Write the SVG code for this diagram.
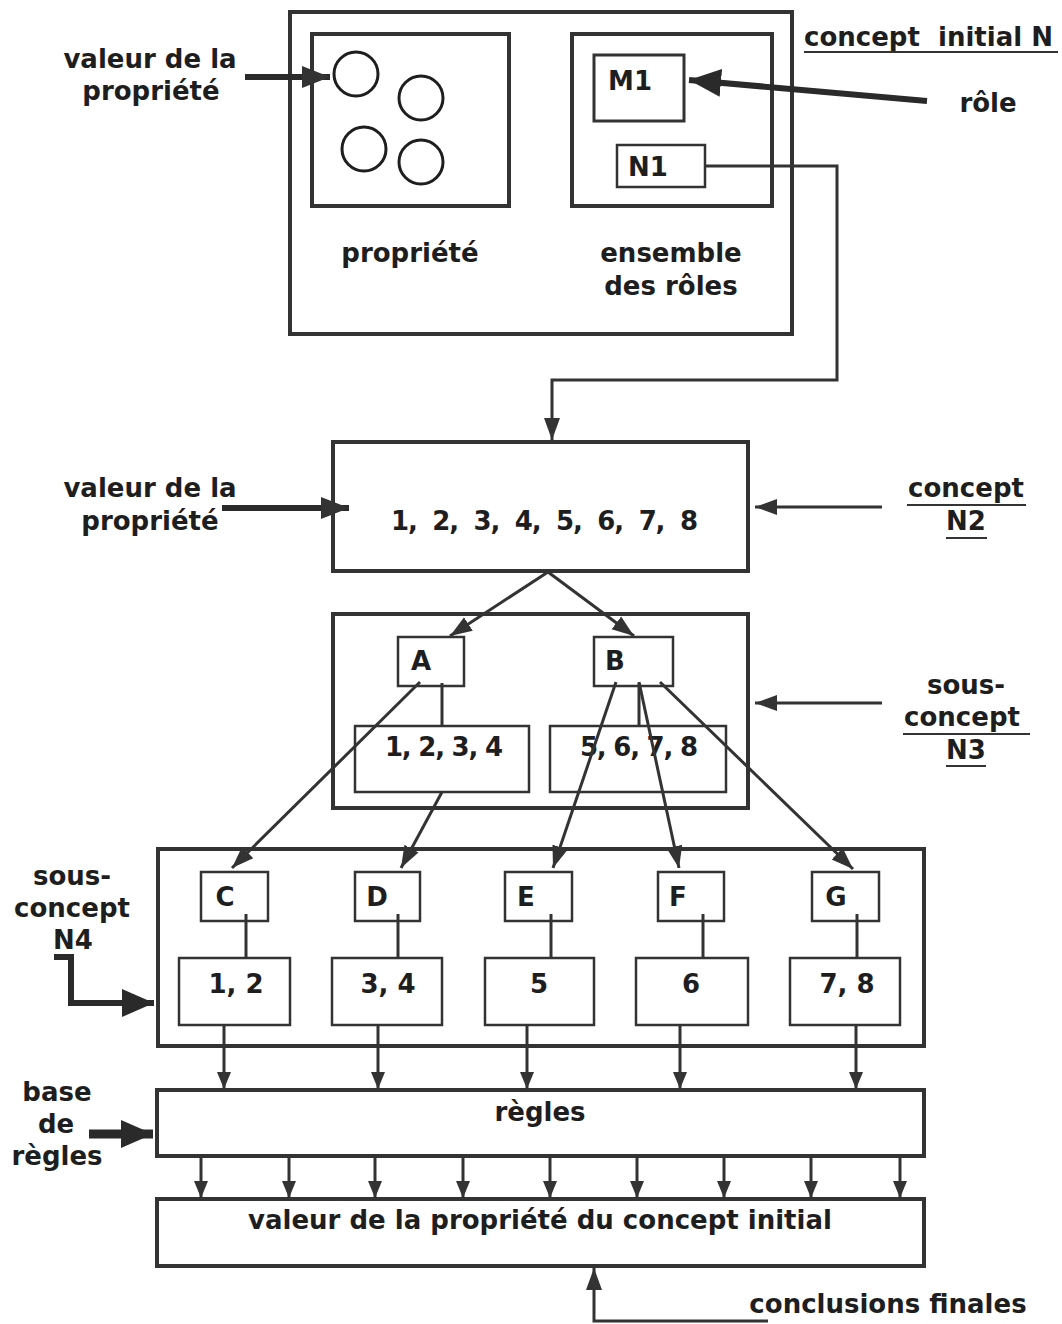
<svg xmlns="http://www.w3.org/2000/svg" width="1062" height="1324" viewBox="0 0 1062 1324">
<defs>
<style>
text{font-family:"DejaVu Sans","Open Sans",sans-serif;font-weight:700;fill:#1e1e1e;font-size:26px}
.c{text-anchor:middle}
.box{fill:none;stroke:#333;stroke-width:4}
.ibox{fill:#fff;stroke:#333;stroke-width:3}
.sbox{fill:#fff;stroke:#333;stroke-width:2.5}
.circ{fill:none;stroke:#1e1e1e;stroke-width:3}
.ln{fill:none;stroke:#333;stroke-width:3}
.th{fill:none;stroke:#2a2a2a;stroke-width:6}
.ul{stroke:#333;stroke-width:2}
</style>
<marker id="am" markerUnits="userSpaceOnUse" markerWidth="24" markerHeight="18" refX="22" refY="9" orient="auto"><path d="M0,1 L22,9 L0,17 z" fill="#333"/></marker>
<marker id="as" markerUnits="userSpaceOnUse" markerWidth="18" markerHeight="16" refX="17" refY="8" orient="auto"><path d="M0,1 L17,8 L0,15 z" fill="#333"/></marker>
<marker id="ab" markerUnits="userSpaceOnUse" markerWidth="34" markerHeight="32" refX="32" refY="16" orient="auto"><path d="M0,2 L32,16 L0,30 z" fill="#2a2a2a"/></marker>
<marker id="ar" markerUnits="userSpaceOnUse" markerWidth="30" markerHeight="26" refX="28" refY="13" orient="auto"><path d="M0,2 L28,13 L0,24 z" fill="#333"/></marker>
</defs>
<rect width="1062" height="1324" fill="#fff"/>

<g id="concept-initial">
<rect class="box" x="290" y="12" width="502" height="322"/>
<text x="804" y="46" xml:space="preserve">concept  initial N</text>
<line class="ul" x1="804" y1="52" x2="1058" y2="52"/>
</g>
<g id="propriete">
<rect class="box" x="312" y="34" width="197" height="172"/>
<circle class="circ" cx="356" cy="74" r="22"/>
<circle class="circ" cx="421" cy="98" r="22"/>
<circle class="circ" cx="364" cy="149" r="22"/>
<circle class="circ" cx="421" cy="162" r="22"/>
<text x="410" y="262" class="c">propriété</text>
</g>
<g id="ensemble-roles">
<rect class="box" x="572" y="34" width="200" height="172"/>
<text x="671" y="262" class="c">ensemble</text>
<text x="671" y="295" class="c">des rôles</text>
</g>
<g id="M1"><rect class="ibox" x="594" y="55" width="90" height="66"/><text x="630" y="90" class="c">M1</text></g>
<g id="N1"><rect class="sbox" x="617" y="145" width="88" height="42"/><text x="648" y="176" class="c">N1</text></g>
<g id="label-valeur1"><text x="150" y="68" class="c">valeur de la</text><text x="151" y="100" class="c">propriété</text></g>
<g id="label-role"><text x="988" y="112" class="c">rôle</text></g>

<g id="concept-N2">
<rect class="box" x="333" y="442" width="415" height="129"/>
<text x="391" y="530" xml:space="preserve" textLength="307" lengthAdjust="spacing">1,  2,  3,  4,  5,  6,  7,  8</text>
</g>
<g id="label-valeur2"><text x="150" y="497" class="c">valeur de la</text><text x="150" y="530" class="c">propriété</text></g>
<g id="label-N2">
<text x="966" y="497" class="c">concept</text><line class="ul" x1="907" y1="505" x2="1026" y2="505"/>
<text x="966" y="530" class="c">N2</text><line class="ul" x1="946" y1="538" x2="987" y2="538"/>
</g>

<g id="sous-concept-N3">
<rect class="box" x="333" y="614" width="415" height="194"/>
</g>
<g id="A"><rect class="sbox" x="398" y="637" width="66" height="49"/><text x="421" y="670" class="c">A</text></g>
<g id="B"><rect class="sbox" x="594" y="637" width="79" height="49"/><text x="615" y="670" class="c">B</text></g>
<g id="set1234"><rect class="sbox" x="355" y="726" width="174" height="66"/><text x="385" y="756" textLength="118" lengthAdjust="spacing">1, 2, 3, 4</text></g>
<g id="set5678"><rect class="sbox" x="550" y="726" width="176" height="66"/><text x="580" y="756" textLength="118" lengthAdjust="spacing">5, 6, 7, 8</text></g>
<g id="label-N3">
<text x="966" y="694" class="c">sous-</text>
<text x="962" y="726" class="c">concept</text><line class="ul" x1="903" y1="734" x2="1030" y2="734"/>
<text x="966" y="759" class="c">N3</text><line class="ul" x1="946" y1="766" x2="986" y2="766"/>
</g>

<g id="sous-concept-N4">
<rect class="box" x="158" y="849" width="766" height="197"/>
</g>
<g id="C"><rect class="sbox" x="201" y="872" width="67" height="49"/><text x="225" y="906" class="c">C</text></g>
<g id="D"><rect class="sbox" x="355" y="872" width="65" height="49"/><text x="377" y="906" class="c">D</text></g>
<g id="E"><rect class="sbox" x="505" y="872" width="67" height="49"/><text x="526" y="906" class="c">E</text></g>
<g id="F"><rect class="sbox" x="658" y="872" width="66" height="49"/><text x="678" y="906" class="c">F</text></g>
<g id="G"><rect class="sbox" x="812" y="872" width="67" height="49"/><text x="836" y="906" class="c">G</text></g>
<g id="set12"><rect class="sbox" x="179" y="958" width="111" height="67"/><text x="236" y="993" class="c">1, 2</text></g>
<g id="set34"><rect class="sbox" x="332" y="958" width="110" height="67"/><text x="388" y="993" class="c">3, 4</text></g>
<g id="set5"><rect class="sbox" x="485" y="958" width="109" height="67"/><text x="539" y="993" class="c">5</text></g>
<g id="set6"><rect class="sbox" x="636" y="958" width="112" height="67"/><text x="691" y="993" class="c">6</text></g>
<g id="set78"><rect class="sbox" x="790" y="958" width="110" height="67"/><text x="847" y="993" class="c">7, 8</text></g>
<g id="label-N4">
<text x="72" y="885" class="c">sous-</text>
<text x="72" y="917" class="c">concept</text>
<text x="73" y="949" class="c">N4</text>
</g>

<g id="regles">
<rect class="box" x="157" y="1090" width="767" height="66"/>
<text x="540" y="1121" class="c">règles</text>
</g>
<g id="label-base">
<text x="57" y="1101" class="c">base</text>
<text x="56" y="1133" class="c">de</text>
<text x="57" y="1165" class="c">règles</text>
</g>

<g id="valeur-finale">
<rect class="box" x="157" y="1199" width="767" height="67"/>
<text x="540" y="1229" class="c">valeur de la propriété du concept initial</text>
</g>
<g id="label-conclusions"><text x="888" y="1313" class="c">conclusions finales</text></g>

<g id="connectors">
<line class="th" x1="245" y1="77" x2="330" y2="77" marker-end="url(#ar)"/>
<line class="th" x1="927" y1="101" x2="689" y2="80" marker-end="url(#ab)"/>
<polyline class="ln" points="705,166 837,166 837,380 552,380 552,440" marker-end="url(#am)"/>
<line class="th" x1="222" y1="508" x2="349" y2="508" marker-end="url(#ar)"/>
<line class="ln" x1="882" y1="507" x2="755" y2="507" marker-end="url(#am)"/>
<line class="ln" x1="882" y1="703" x2="755" y2="703" marker-end="url(#am)"/>
<line class="ln" x1="548" y1="572" x2="450" y2="636" marker-end="url(#am)"/>
<line class="ln" x1="548" y1="572" x2="634" y2="636" marker-end="url(#am)"/>
<line class="ln" x1="442" y1="683" x2="442" y2="726"/>
<line class="ln" x1="639" y1="683" x2="639" y2="726"/>
<line class="ln" x1="420" y1="682" x2="232" y2="868" marker-end="url(#am)"/>
<line class="ln" x1="442" y1="792" x2="401" y2="868" marker-end="url(#am)"/>
<line class="ln" x1="616" y1="682" x2="553" y2="868" marker-end="url(#am)"/>
<line class="ln" x1="639" y1="682" x2="679" y2="868" marker-end="url(#am)"/>
<line class="ln" x1="660" y1="682" x2="853" y2="869" marker-end="url(#am)"/>
<line class="ln" x1="246" y1="914" x2="246" y2="958"/>
<line class="ln" x1="398" y1="914" x2="398" y2="958"/>
<line class="ln" x1="551" y1="914" x2="551" y2="958"/>
<line class="ln" x1="703" y1="914" x2="703" y2="958"/>
<line class="ln" x1="857" y1="914" x2="857" y2="958"/>
<polyline class="th" points="54,957 71,957 71,1003 154,1003" marker-end="url(#ab)"/>
<line class="ln" x1="224" y1="1025" x2="224" y2="1089" marker-end="url(#as)"/>
<line class="ln" x1="378" y1="1025" x2="378" y2="1089" marker-end="url(#as)"/>
<line class="ln" x1="527" y1="1025" x2="527" y2="1089" marker-end="url(#as)"/>
<line class="ln" x1="680" y1="1025" x2="680" y2="1089" marker-end="url(#as)"/>
<line class="ln" x1="856" y1="1025" x2="856" y2="1089" marker-end="url(#as)"/>
<line style="fill:none;stroke:#2a2a2a;stroke-width:9" x1="89" y1="1134" x2="153" y2="1134" marker-end="url(#ab)"/>
<line class="ln" x1="201" y1="1156" x2="201" y2="1198" marker-end="url(#as)"/>
<line class="ln" x1="289" y1="1156" x2="289" y2="1198" marker-end="url(#as)"/>
<line class="ln" x1="375" y1="1156" x2="375" y2="1198" marker-end="url(#as)"/>
<line class="ln" x1="463" y1="1156" x2="463" y2="1198" marker-end="url(#as)"/>
<line class="ln" x1="550" y1="1156" x2="550" y2="1198" marker-end="url(#as)"/>
<line class="ln" x1="637" y1="1156" x2="637" y2="1198" marker-end="url(#as)"/>
<line class="ln" x1="724" y1="1156" x2="724" y2="1198" marker-end="url(#as)"/>
<line class="ln" x1="811" y1="1156" x2="811" y2="1198" marker-end="url(#as)"/>
<line class="ln" x1="900" y1="1156" x2="900" y2="1198" marker-end="url(#as)"/>
<polyline class="ln" points="768,1321 594,1321 594,1268" marker-end="url(#am)"/>
</g>
</svg>
